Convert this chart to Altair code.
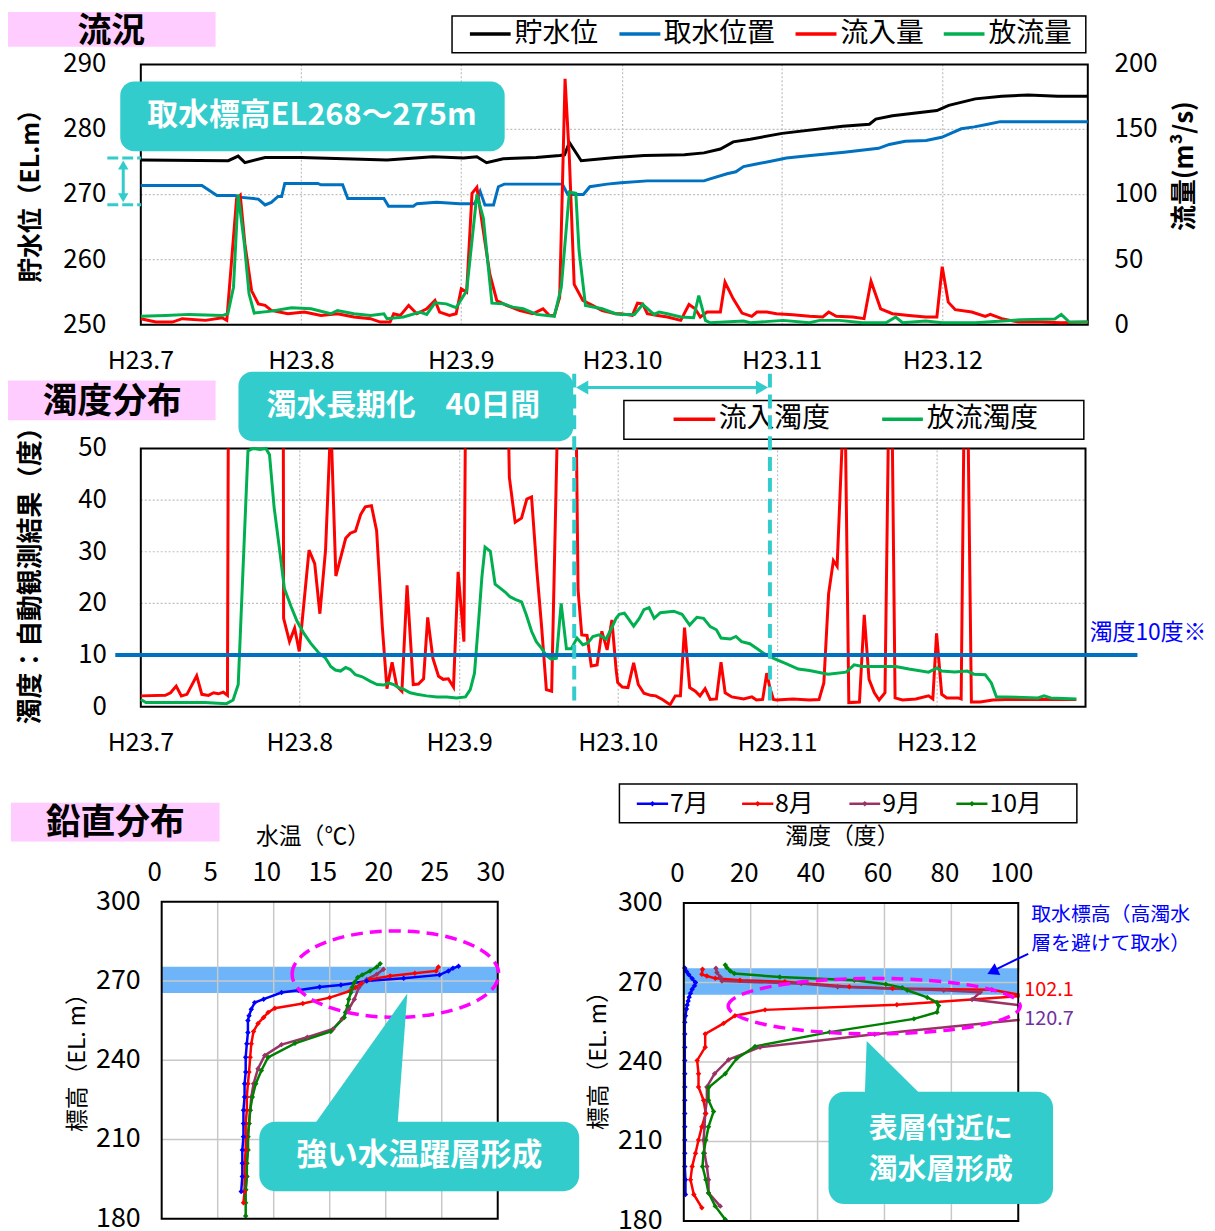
import altair as alt
import pandas as pd

# ---------------------------------------------------------------- layout
W, H = 1207, 1223
JP = "Noto Sans CJK JP"
NARROW = "Liberation Sans Narrow, Noto Sans CJK JP"
TEAL = "#33CCCC"
PINK = "#FFCCFF"
BLACK_C, BLUE_C, RED_C, GREEN_C = "#000000", "#0070C0", "#FF0000", "#00B050"
BAND_C = "#6EB4F8"

# ---------------------------------------------------------------- data
MONTH_TICKS = [0, 31, 62, 92, 123, 153]          # day index from 2011-07-01
MONTH_LABELS = ["H23.7", "H23.8", "H23.9", "H23.10", "H23.11", "H23.12"]
DAY_END = 182
EL_TICKS = [250, 260, 270, 280, 290]
Q_TICKS = [0, 50, 100, 150, 200]
TURB_TICKS = [0, 10, 20, 30, 40, 50]
TEMP_TICKS = [0, 5, 10, 15, 20, 25, 30]
TB_TICKS = [0, 20, 40, 60, 80, 100]
PROF_EL_TICKS = [180, 210, 240, 270, 300]

TOP_SERIES = ["貯水位", "取水位置", "流入量", "放流量"]
MID_SERIES = ["流入濁度", "放流濁度"]

# 貯水位 (EL.m)  (day, elevation)
LEVEL = [(0, 275.3), (16.9, 275.2), (18.8, 275.9), (20.1, 274.9), (24, 275.7), (31, 275.7),
         (47.6, 275.3), (56.5, 275.8), (62.4, 275.6), (64.9, 275.8), (66.7, 274.9), (69.8, 275.5),
         (75.9, 275.7), (80.3, 276.0), (81.2, 276.1), (82.1, 278.0), (84.3, 275.2), (88.2, 275.5),
         (90.7, 275.7), (96.2, 276.0), (104, 276.1), (107.8, 276.4), (111, 277.0), (113.5, 278.1),
         (116.8, 278.5), (123, 279.4), (134.3, 280.5), (139.3, 280.8), (140.5, 281.6), (143.6, 282.1),
         (151.9, 282.9), (154.2, 283.7), (159.5, 284.7), (164.8, 285.1), (170.1, 285.3), (176, 285.1),
         (182, 285.1)]

# 取水位置 (EL.m)
INTAKE = [(0, 271.4), (11.8, 271.4), (14.7, 269.85), (18.2, 269.85), (19.0, 269.6), (22.7, 269.3),
          (24.0, 268.4), (25.2, 268.8), (26.5, 269.7), (27.2, 269.7), (27.8, 271.7), (34.2, 271.7),
          (34.8, 271.5), (39.0, 271.5), (40.0, 269.4), (47.0, 269.4), (47.9, 268.2), (52.7, 268.2),
          (53.4, 268.6), (57.2, 268.8), (61.7, 268.6), (64.5, 268.6), (65.5, 270.5), (66.4, 268.4),
          (68.0, 268.4), (68.9, 271.2), (70.0, 271.6), (80.8, 271.6), (81.8, 270.0), (84.7, 270.0),
          (85.9, 271.2), (89.1, 271.6), (91.7, 271.8), (96.8, 272.1), (107.8, 272.1), (109.0, 272.4),
          (112.3, 273.2), (114.0, 273.5), (115.5, 274.3), (118.0, 274.7), (122.0, 275.3), (123.8, 275.6),
          (128.3, 276.0), (134.6, 276.5), (141.0, 277.1), (143.0, 277.7), (146.0, 278.2), (149.9, 278.3),
          (152.8, 278.8), (154.6, 279.4), (156.7, 280.1), (159.3, 280.4), (162.0, 280.8), (164.5, 281.2),
          (182, 281.2)]

# 流入量 (m3/s)
INFLOW = [(0, 4.6), (2.9, 2.0), (6.1, 2.0), (8, 4.6), (12.5, 3.3), (15.7, 5.3), (16.6, 3.3), (18.5, 97),
          (19.2, 99.5), (20.1, 62), (21.4, 26), (22.7, 16), (24, 14.8), (25.2, 11), (28.4, 8.4),
          (31.6, 9.7), (34.8, 7.1), (38, 8.4), (41.2, 5.9), (44.4, 4.6), (46.3, 2.0), (48.2, 2.0),
          (48.9, 8.4), (50.2, 7.1), (51.8, 14.8), (53.4, 8.4), (55.3, 12.2), (56.9, 18.6), (57.8, 9.7),
          (59.7, 7.1), (61, 8.4), (62, 27.5), (63, 25), (64, 101), (64.9, 105.6), (66.1, 72), (67.3, 39),
          (68.6, 18.6), (70.4, 14.8), (72.9, 10.9), (75.3, 8.4), (77.2, 12.2), (78.4, 7.1), (79.3, 7.1),
          (80.3, 21), (81.3, 189), (82.1, 128), (83, 31), (84.6, 18.6), (86.4, 14.8), (88.2, 10.9),
          (90.7, 8.4), (91.7, 8.4), (93.9, 7.1), (94.9, 16.5), (95.9, 16), (96.8, 8.4), (98.8, 7.1),
          (100.7, 5.9), (103.3, 3.3), (104.9, 15.5), (106.1, 12.2), (107.1, 5.9), (108.4, 9.7),
          (111, 9.7), (111.9, 32.6), (113.5, 19.8), (115.2, 8.9), (117.1, 6.4), (118.1, 9.7), (120, 9.7),
          (121.9, 8.4), (125, 7.6), (128.1, 6.4), (130.6, 5.9), (131.7, 9.7), (133.1, 6.4), (136.2, 5.9),
          (138.3, 4.6), (139.6, 33.3), (141.4, 12.2), (143.6, 8.4), (146.7, 7.1), (149.8, 5.9),
          (151.9, 5.9), (152.9, 44.5), (154.1, 17.3), (155.5, 11.5), (158.8, 9.7), (161.5, 6.4),
          (162.5, 7.9), (164.8, 4.6), (168.1, 2.0), (172.7, 2.0), (176.7, 1.5), (182, 2.0)]

# 放流量 (m3/s)
OUTFLOW = [(0, 6.4), (4.8, 7), (9.3, 7.9), (15.7, 7), (16.8, 8.4), (17.9, 28.8), (18.8, 100), (20, 62),
           (20.9, 23.7), (21.9, 8.9), (25.2, 10.4), (29.1, 13), (32.9, 12.2), (36.7, 8.4), (38, 10.9),
           (41.2, 8.4), (44.4, 7.1), (47, 8.4), (47.6, 4.6), (50.8, 5.9), (54, 9.7), (55.3, 7.9),
           (56.9, 16.8), (59.1, 16), (61, 13), (63, 26), (64.9, 100), (66.1, 82), (67.7, 16.5),
           (69.8, 16), (71.6, 13.5), (73.5, 12.2), (76, 7.9), (79.3, 6.4), (80.6, 28.8), (82.1, 102),
           (83.3, 101), (83.9, 57), (85.1, 14.8), (88.2, 12.2), (90.7, 8.4), (91.7, 7.9), (94.3, 7.9),
           (95.9, 15.5), (98.1, 7.9), (99.1, 9.7), (100.7, 8.4), (103.3, 5.9), (105.8, 5.3), (106.8, 22.4),
           (108.1, 3.3), (109, 1.5), (115.5, 2.8), (116.8, 1.5), (123.2, 3.3), (128.1, 1.5), (130, 3.3),
           (133.7, 3.3), (138, 1.5), (142.4, 1.5), (144.2, 5.9), (145.5, 1.5), (149.8, 2.8), (152.9, 1.5),
           (159.5, 1.5), (168.8, 3.8), (175.4, 4.3), (176.7, 7.9), (178.3, 2.0), (182, 2.0)]

# 流入濁度 (度) ; None = off-scale (above 50) gap
TURB_IN = [(0, 2.1), (4.8, 2.2), (5.8, 2.7), (6.9, 4.0), (7.9, 2.1), (9, 2.4), (10.9, 6.0), (11.9, 2.4),
           (13.2, 2.2), (14.2, 2.7), (15.1, 2.5), (16.1, 2.8), (16.9, 2.2), (17.05, 50), None,
           (27.8, 50), (27.85, 17.1), (29, 12.6), (30, 15.2), (30.9, 10.7), (32.8, 30.3), (33.9, 27.7),
           (34.9, 18.0), (36, 30.3), (36.8, 50), None,
           (37.2, 50), (38, 25.3), (39.9, 32.6), (40.8, 33.6), (41.8, 34.0), (42.8, 37.2), (43.7, 38.7),
           (44.9, 38.9), (45.9, 34.1), (47, 15.5), (47.9, 3.5), (48.9, 8.6), (49.8, 4.0), (50.8, 3.0),
           (51.8, 23.5), (53, 4.3), (54, 4.4), (55, 5.4), (55.8, 17.3), (56.8, 9.4), (57.9, 5.9),
           (58.8, 5.3), (59.8, 5.4), (60.8, 3.8), (61.7, 26.1), (62.8, 12.6), (63.05, 50), None,
           (71.3, 50), (71.4, 44.4), (72.5, 35.7), (73.7, 36.5), (74.7, 40.2), (75.6, 40.6), (76.6, 26.4),
           (77.5, 15.5), (78.4, 3.3), (79.4, 3.0), (80.4, 50), None,
           (84.1, 50), (84.4, 22.6), (85.1, 13.9), (86.1, 13.8), (86.9, 7.9), (88, 8.1), (88.9, 14.6),
           (89.9, 11.0), (90.8, 16.8), (91.6, 7.2), (91.9, 4.7), (92.8, 3.8), (93.9, 3.7), (95, 8.5),
           (95.9, 4.3), (97, 2.6), (98.3, 2.2), (99.3, 2.1), (100.6, 1.4), (102.1, 0.4), (103.1, 2.1),
           (104.1, 2.1), (104.9, 15.3), (105.9, 3.7), (107, 3.0), (107.9, 2.1), (108.9, 3.5), (109.9, 1.4),
           (111.1, 1.5), (112, 8.6), (112.8, 2.7), (114.1, 1.9), (116.4, 1.5), (118, 1.9), (118.9, 1.3),
           (120.1, 1.4), (120.9, 6.5), (121.5, 3.7), (122.2, 1.4), (122.8, 1.3), (125.9, 1.5), (129, 1.3),
           (130.8, 1.4), (131.7, 4.6), (132.6, 21.9), (133.5, 28.3), (134.2, 27.2), (135.1, 50), None,
           (135.8, 50), (136.4, 0.8), (138.4, 0.9), (139.3, 17.8), (140.2, 5.3), (141.2, 2.7), (142.1, 1.3),
           (143.2, 2.7), (143.8, 50), None,
           (144.6, 50), (145.1, 1.7), (146.5, 1.3), (149, 1.5), (151.4, 2.1), (152.2, 1.5), (152.9, 14.2),
           (153.9, 2.4), (154.9, 1.7), (157.1, 1.7), (157.7, 1.5), (158.2, 50), None,
           (159.1, 50), (159.7, 0.9), (161.4, 0.9), (163.9, 1.3), (166.4, 1.4), (172.7, 1.4), (180.2, 1.4)]

# 放流濁度 (度)
TURB_OUT = [(0, 1.4), (1, 0.8), (6.1, 0.8), (12.5, 0.8), (16.7, 0.6), (18, 1.3), (19, 4.3), (19.9, 25.8),
            (20.9, 49.5), (21.9, 50), (23.2, 49.8), (24.4, 50), (25.1, 48.8), (26, 38.6), (27, 30.9),
            (28, 22.9), (29.3, 19.4), (30.5, 16.5), (31.8, 14.2), (33.1, 12.3), (34.7, 10.4), (36, 9.4),
            (37, 7.8), (37.9, 7.1), (38.9, 6.9), (39.9, 7.6), (40.8, 7.2), (41.8, 6.2), (43.1, 5.8),
            (44.7, 4.9), (46, 4.3), (47.3, 4.2), (48.2, 4.6), (49.2, 4.3), (50.2, 3.7), (51.1, 3.4),
            (52.4, 2.7), (53.7, 2.4), (55.6, 2.1), (57.6, 1.9), (59.5, 1.9), (61.4, 1.7), (63.1, 1.9),
            (64, 3.3), (64.8, 6.5), (65.6, 16.8), (66.2, 25.1), (66.8, 30.9), (67.8, 30.1), (68.7, 23.7),
            (69.6, 23.0), (70.6, 22.2), (71.5, 21.3), (72.5, 20.8), (73.7, 20.3), (74.6, 17.8),
            (75.6, 14.6), (76.5, 12.6), (77.5, 11.3), (78.4, 9.9), (79.3, 9.2), (80.3, 9.4), (81.2, 20.0),
            (82.2, 11.2), (83.1, 11.2), (84.2, 13.3), (85.3, 12.0), (86.2, 12.3), (87.2, 13.6),
            (88.4, 13.9), (89.7, 13.1), (90.6, 14.9), (91.6, 17.1), (92.2, 17.9), (93.2, 18.1), (95, 15.6),
            (96.1, 17.1), (97, 18.8), (98, 19.2), (99, 17.1), (100.2, 18.2), (102.8, 18.5), (104.4, 17.9),
            (105.9, 15.8), (107.3, 17.3), (108.6, 17.1), (109.9, 15.5), (111.1, 14.9), (112, 13.3),
            (113.8, 13.1), (114.9, 13.6), (116, 12.6), (117.6, 12.2), (118.9, 11.3), (120.2, 10.4),
            (121.5, 9.7), (122.8, 9.1), (124.7, 8.3), (126.9, 7.3), (129, 7.0), (132.5, 6.3), (135.9, 6.7),
            (137.4, 8.1), (139, 7.8), (141.5, 7.8), (145.2, 7.8), (147.7, 7.3), (151.4, 6.7), (153, 7.5),
            (153.9, 6.9), (156.4, 6.7), (158.9, 6.9), (160.2, 6.3), (162.4, 6.2), (163.6, 4.6),
            (164.6, 1.9), (166.4, 1.9), (172.7, 1.7), (173.9, 2.1), (175.2, 1.7), (180.2, 1.5)]
TURB_LIMIT = 10

# 鉛直分布
PROFILE_MONTHS = ["7月", "8月", "9月", "10月"]
PROFILE_COLORS = ["#0000FF", "#FF0000", "#993366", "#008000"]
# 水温 (°C), 標高 (EL.m)
TEMP_PROFILES = {
    "7月": [(26.5, 275.6), (26.0, 274.8), (25.6, 273.8), (24.8, 272.3), (21.6, 271.0), (18.3, 270.0),
            (16.0, 268.5), (14.1, 267.7), (12.2, 266.5), (10.7, 265.6), (9.1, 263.1), (8.3, 261.8),
            (8.0, 259.3), (7.8, 256.8), (7.7, 255.0), (7.7, 250.5), (7.6, 246.2), (7.5, 241.1),
            (7.5, 235.5), (7.4, 231.1), (7.4, 226.1), (7.3, 221.1), (7.3, 216.0), (7.3, 211.0),
            (7.2, 206.0), (7.2, 201.0), (7.2, 196.0), (7.1, 190.3)],
    "8月": [(24.7, 275.3), (24.5, 273.8), (22.6, 272.9), (20.4, 271.9), (18.6, 270.6), (17.8, 269.0),
            (17.3, 267.5), (16.8, 266.2), (15.0, 263.7), (12.6, 261.5), (10.1, 259.7), (9.5, 258.1),
            (9.1, 256.2), (8.6, 253.9), (8.2, 250.9), (8.0, 246.2), (7.9, 241.1), (7.8, 235.5),
            (7.7, 231.1), (7.6, 226.1), (7.6, 221.1), (7.5, 216.0), (7.5, 211.0), (7.5, 206.0),
            (7.4, 201.0), (7.4, 196.0), (7.4, 190.3), (7.3, 186.0)],
    "9月": [(19.8, 274.4), (19.2, 272.5), (18.3, 270.6), (17.6, 267.5), (17.2, 263.1), (16.7, 259.3),
            (16.1, 255.6), (15.3, 251.8), (13.0, 248.7), (10.7, 245.9), (9.2, 241.8), (8.6, 236.8),
            (8.2, 231.1), (8.0, 226.1), (7.9, 221.1), (7.8, 216.0), (7.7, 211.0), (7.7, 206.0),
            (7.6, 201.0), (7.6, 196.0), (7.5, 191.0)],
    "10月": [(19.5, 276.5), (19.2, 275.3), (18.6, 273.8), (17.9, 272.3), (17.5, 271.3), (17.2, 269.4),
             (17.0, 267.5), (16.9, 265.6), (16.7, 263.1), (16.6, 260.6), (16.4, 258.1), (16.3, 256.2),
             (15.1, 250.9), (11.9, 246.4), (9.5, 241.1), (8.9, 236.1), (8.4, 231.1), (8.1, 226.1),
             (7.9, 221.1), (7.8, 216.0), (7.7, 211.0), (7.7, 206.0), (7.6, 201.0), (7.6, 196.0),
             (7.5, 191.0), (7.5, 186.0), (7.5, 181.0)],
}
# 濁度 (度), 標高 (EL.m)
TURB_PROFILES = {
    "7月": [(0.3, 275.5), (0.8, 274.2), (1.5, 273.0), (2.5, 271.5), (3.5, 270.0), (3.2, 268.8),
            (2.5, 267.5), (2.0, 266.0), (1.6, 264.5), (1.3, 263.0), (1.0, 261.5), (0.8, 260.0),
            (0.5, 257.5), (0.3, 255.0), (0.3, 250.6), (0.3, 245.6), (0.3, 240.6), (0.3, 235.6),
            (0.3, 230.6), (0.3, 225.6), (0.3, 220.6), (0.3, 215.6), (0.3, 210.6), (0.3, 205.6),
            (0.3, 200.6), (0.5, 195.6), (0.5, 190.0)],
    "8月": [(5.6, 275.0), (5.4, 273.1), (6.9, 272.5), (9.4, 271.6), (16.8, 270.9), (30.2, 270.3),
            (49.5, 268.4), (62.4, 267.8), (92.1, 267.3), (102.1, 265.0), (63.7, 261.6), (24.3, 259.7),
            (15.3, 257.5), (11.9, 254.6), (6.4, 250.6), (6.4, 245.6), (4.0, 240.6), (4.4, 235.6),
            (4.4, 230.6), (5.9, 225.6), (6.6, 220.6), (5.4, 215.6), (4.4, 210.6), (3.5, 205.6),
            (2.5, 200.6), (2.0, 195.6), (3.0, 190.0), (5.4, 185.0)],
    "9月": [(9.6, 275.4), (9.9, 273.8), (10.9, 272.1), (11.4, 270.6), (35.1, 269.6), (46.0, 268.4),
            (77.7, 267.1), (88.6, 266.3), (86.2, 263.6), (120.7, 258.5), (57.1, 250.5), (22.8, 245.6),
            (13.4, 240.9), (9.2, 235.6), (6.9, 230.6), (6.9, 225.6), (6.4, 220.6), (6.2, 215.6),
            (5.9, 210.6), (6.2, 205.6), (6.9, 200.6), (7.4, 195.6), (7.4, 190.6), (10.9, 185.6)],
    "10月": [(12.4, 276.6), (12.9, 275.6), (13.9, 274.4), (15.1, 273.4), (28.7, 272.1), (51.0, 270.9),
             (60.4, 269.4), (65.3, 268.1), (66.8, 267.1), (72.8, 264.4), (75.7, 262.5), (76.2, 261.3),
             (75.7, 258.8), (68.8, 256.3), (43.6, 251.3), (21.3, 245.9), (15.8, 241.3), (12.4, 235.6),
             (7.4, 230.4), (7.4, 225.6), (8.9, 221.3), (7.4, 215.6), (6.6, 210.6), (5.9, 205.6),
             (5.6, 200.6), (6.6, 195.6), (7.4, 190.6), (9.4, 185.6), (12.4, 180.6)],
}
INTAKE_BAND = (265.4, 275.4)
PEAK_LABELS = [("102.1", "#FF0000"), ("120.7", "#7030A0")]


# ---------------------------------------------------------------- helpers
def P(v):
    """page pixel -> chart pixel (page has an 8px margin)"""
    return v - 8


def series(pairs, xname, yname):
    rows, seg = [], 0
    for p in pairs:
        if p is None:
            seg += 1
            continue
        rows.append({xname: p[0], yname: p[1], "seg": seg})
    return pd.DataFrame(rows)


def profile_df(profiles, col):
    rows = []
    for m in PROFILE_MONTHS:
        for i, (v, e) in enumerate(profiles[m]):
            rows.append({"month": m, col: v, "el": e, "i": i})
    return pd.DataFrame(rows)


def xticks(vals, labels, xs, ypage, size=26, font=JP, dx=0):
    df = pd.DataFrame({"v": vals, "lab": labels})
    return alt.Chart(df).mark_text(fontSize=size, font=font, color="black", align="center",
                                   baseline="middle", dx=dx).encode(
        x=alt.X("v:Q", scale=xs, axis=None), y=alt.value(P(ypage)), text="lab:N")


def yticks(vals, ys, xpage, align, size=26, font=JP):
    df = pd.DataFrame({"v": vals, "lab": [str(v) for v in vals]})
    return alt.Chart(df).mark_text(fontSize=size, font=font, color="black", align=align,
                                   baseline="middle").encode(
        y=alt.Y("v:Q", scale=ys, axis=None), x=alt.value(P(xpage)), text="lab:N")


def hgrid(vals, x0, x1, xs, ys, style):
    df = pd.DataFrame({"v": vals, "a": x0, "b": x1})
    return alt.Chart(df).mark_rule(**style).encode(
        x=alt.X("a:Q", scale=xs, axis=None), x2="b:Q",
        y=alt.Y("v:Q", scale=ys, axis=None))


def vgrid(vals, y0, y1, xs, ys, style):
    df = pd.DataFrame({"v": vals, "a": y0, "b": y1})
    return alt.Chart(df).mark_rule(**style).encode(
        x=alt.X("v:Q", scale=xs, axis=None),
        y=alt.Y("a:Q", scale=ys, axis=None), y2="b:Q")


def frame(x0, x1, y0, y1, xs, ys, **kw):
    df = pd.DataFrame({"a": [x0], "b": [x1], "c": [y0], "d": [y1]})
    return alt.Chart(df).mark_rect(**kw).encode(
        x=alt.X("a:Q", scale=xs, axis=None), x2="b:Q",
        y=alt.Y("c:Q", scale=ys, axis=None), y2="d:Q")


ONE = pd.DataFrame({"k": [0]})


def box(x1, y1, x2, y2, **kw):
    return alt.Chart(ONE).mark_rect(**kw).encode(
        x=alt.value(P(x1)), x2=alt.value(P(x2)), y=alt.value(P(y1)), y2=alt.value(P(y2)))


def label(x, y, s, **kw):
    kw.setdefault("font", JP)
    kw.setdefault("align", "center")
    kw.setdefault("baseline", "middle")
    kw.setdefault("color", "black")
    return alt.Chart(ONE).mark_text(text=s, **kw).encode(x=alt.value(P(x)), y=alt.value(P(y)))


def seg(x1, y1, x2, y2, **kw):
    return alt.Chart(ONE).mark_rule(**kw).encode(
        x=alt.value(P(x1)), x2=alt.value(P(x2)), y=alt.value(P(y1)), y2=alt.value(P(y2)))


def symbol(x, y, shape, size, **kw):
    kw.setdefault("opacity", 1)
    return alt.Chart(ONE).mark_point(shape=shape, size=size, **kw).encode(
        x=alt.value(P(x)), y=alt.value(P(y)))


GRID_DOT = dict(color="#BFBFBF", strokeDash=[2, 2], strokeWidth=1.2)
GRID_SOLID = dict(color="#C8C8C8", strokeWidth=1.5)

# ---------------------------------------------------------------- top panel (流況)
X_TOP = alt.Scale(domain=MONTH_TICKS + [DAY_END],
                  range=[P(v) for v in [141.7, 303.3, 464.3, 626.7, 787.3, 949, 1095]],
                  nice=False, zero=False)
Y_EL = alt.Scale(domain=[250, 290], range=[P(322.7), P(60.7)], nice=False, zero=False)
Y_Q = alt.Scale(domain=[0, 200], range=[P(322.7), P(60.7)], nice=False, zero=False)

level_line = alt.Chart(series(LEVEL, "day", "el")).mark_line(color=BLACK_C, strokeWidth=3).encode(
    x=alt.X("day:Q", scale=X_TOP, axis=None), y=alt.Y("el:Q", scale=Y_EL, axis=None))
intake_line = alt.Chart(series(INTAKE, "day", "el")).mark_line(color=BLUE_C, strokeWidth=3).encode(
    x=alt.X("day:Q", scale=X_TOP, axis=None), y=alt.Y("el:Q", scale=Y_EL, axis=None))
top_el = alt.layer(
    hgrid([260, 270, 280], 0, DAY_END, X_TOP, Y_EL, GRID_DOT),
    vgrid(MONTH_TICKS[1:], 250, 290, X_TOP, Y_EL, GRID_DOT),
    frame(0, DAY_END, 250, 290, X_TOP, Y_EL, filled=False, color="black", strokeWidth=2),
    level_line, intake_line,
    xticks(MONTH_TICKS, MONTH_LABELS, X_TOP, 359, size=25),
    yticks(EL_TICKS, Y_EL, 107, "right"))

inflow_line = alt.Chart(series(INFLOW, "day", "q")).mark_line(color=RED_C, strokeWidth=3).encode(
    x=alt.X("day:Q", scale=X_TOP, axis=None), y=alt.Y("q:Q", scale=Y_Q, axis=None))
outflow_line = alt.Chart(series(OUTFLOW, "day", "q")).mark_line(color=GREEN_C, strokeWidth=3).encode(
    x=alt.X("day:Q", scale=X_TOP, axis=None), y=alt.Y("q:Q", scale=Y_Q, axis=None))
top_q = alt.layer(inflow_line, outflow_line, yticks(Q_TICKS, Y_Q, 1122, "left"))
top = alt.layer(top_el, top_q).resolve_scale(y="independent")

# ---------------------------------------------------------------- middle panel (濁度分布)
X_MID = alt.Scale(domain=MONTH_TICKS + [DAY_END],
                  range=[P(v) for v in [141.7, 301.7, 462.7, 622.3, 782.7, 943.3, 1092.7]],
                  nice=False, zero=False)
Y_MID = alt.Scale(domain=[0, 50], range=[P(707.3), P(447.3)], nice=False, zero=False)

tin_line = alt.Chart(series(TURB_IN, "day", "v")).mark_line(color=RED_C, strokeWidth=3).encode(
    x=alt.X("day:Q", scale=X_MID, axis=None), y=alt.Y("v:Q", scale=Y_MID, axis=None),
    detail="seg:N")
tout_line = alt.Chart(series(TURB_OUT, "day", "v")).mark_line(color=GREEN_C, strokeWidth=3).encode(
    x=alt.X("day:Q", scale=X_MID, axis=None), y=alt.Y("v:Q", scale=Y_MID, axis=None))
limit_line = alt.Chart(pd.DataFrame({"v": [TURB_LIMIT]})).mark_rule(color=BLUE_C, strokeWidth=4).encode(
    x=alt.value(P(116)), x2=alt.value(P(1145)), y=alt.Y("v:Q", scale=Y_MID, axis=None))
mid = alt.layer(
    hgrid([10, 20, 30, 40], 0, DAY_END, X_MID, Y_MID, GRID_DOT),
    vgrid(MONTH_TICKS[1:], 0, 50, X_MID, Y_MID, GRID_DOT),
    frame(0, DAY_END, 0, 50, X_MID, Y_MID, filled=False, color="black", strokeWidth=2),
    tin_line, tout_line, limit_line,
    xticks(MONTH_TICKS, MONTH_LABELS, X_MID, 744, size=25),
    yticks(TURB_TICKS, Y_MID, 107.5, "right"))

# ---------------------------------------------------------------- bottom panels (鉛直分布)
COLOR = alt.Scale(domain=PROFILE_MONTHS, range=PROFILE_COLORS)
PT = alt.OverlayMarkDef(shape="diamond", filled=True, size=30, opacity=1)

X_BL = alt.Scale(domain=[0, 30], range=[P(162.7), P(501)], nice=False, zero=False)
Y_BL = alt.Scale(domain=[180, 300], range=[P(1222.7), P(903.6)], nice=False, zero=False)
bl_lines = alt.Chart(profile_df(TEMP_PROFILES, "t")).mark_line(strokeWidth=2.5, point=PT).encode(
    x=alt.X("t:Q", scale=X_BL, axis=None), y=alt.Y("el:Q", scale=Y_BL, axis=None),
    color=alt.Color("month:N", scale=COLOR, legend=None),
    order=alt.Order("i:Q"))
bl = alt.layer(
    frame(0, 30, INTAKE_BAND[0], INTAKE_BAND[1], X_BL, Y_BL, color=BAND_C),
    hgrid([210, 240, 270], 0, 30, X_BL, Y_BL, GRID_SOLID),
    vgrid([5, 10, 15, 20, 25], 180, 300, X_BL, Y_BL, GRID_SOLID),
    bl_lines,
    frame(0, 30, 180, 300, X_BL, Y_BL, filled=False, color="black", strokeWidth=2),
    xticks(TEMP_TICKS, [str(v) for v in TEMP_TICKS], X_BL, 875, size=26, font=NARROW, dx=-7),
    yticks(PROF_EL_TICKS, Y_BL, 141.6, "right", size=27, font=NARROW))

X_BR = alt.Scale(domain=[0, 100], range=[P(688.3), P(1025)], nice=False, zero=False)
Y_BR = alt.Scale(domain=[180, 300], range=[P(1225), P(905)], nice=False, zero=False)
br_lines = alt.Chart(profile_df(TURB_PROFILES, "tb")).mark_line(strokeWidth=2.5, point=PT).encode(
    x=alt.X("tb:Q", scale=X_BR, axis=None), y=alt.Y("el:Q", scale=Y_BR, axis=None),
    color=alt.Color("month:N", scale=COLOR, legend=None),
    order=alt.Order("i:Q"))
br = alt.layer(
    frame(0, 100, INTAKE_BAND[0], INTAKE_BAND[1], X_BR, Y_BR, color=BAND_C),
    hgrid([210, 240, 270], 0, 100, X_BR, Y_BR, GRID_SOLID),
    vgrid([20, 40, 60, 80], 180, 300, X_BR, Y_BR, GRID_SOLID),
    br_lines,
    frame(0, 100, 180, 300, X_BR, Y_BR, filled=False, color="black", strokeWidth=2),
    xticks(TB_TICKS, [str(v) for v in TB_TICKS], X_BR, 876, size=26, font=NARROW, dx=-6.5),
    yticks(PROF_EL_TICKS, Y_BR, 667, "right", size=27, font=NARROW))

# ---------------------------------------------------------------- decorations
ELLIPSE_BL = "M -1 0 A 1 0.418 0 1 1 1 0 A 1 0.418 0 1 1 -1 0 Z"
ELLIPSE_BR = "M -1 0 A 1 0.19 0 1 1 1 0 A 1 0.19 0 1 1 -1 0 Z"
TAIL_BL = "M -0.709 1 L 0.560 1 L 0.709 -1 Z"
TAIL_BR = "M -1 0.952 L 1 0.952 L -0.935 -0.952 Z"

deco = [
    # panel titles
    box(8, 8, 217, 43, color=PINK), label(112, 28, "流況", fontSize=34, fontWeight="bold"),
    box(8, 379, 217, 419, color=PINK), label(113, 401, "濁度分布", fontSize=35, fontWeight="bold"),
    box(11, 804, 221, 843, color=PINK), label(116, 824, "鉛直分布", fontSize=35, fontWeight="bold"),
    # axis titles
    label(31, 187, "貯水位（EL.m）", angle=270, fontSize=25, fontWeight="bold"),
    label(1193, 163, "流量(m³/s)", angle=270, fontSize=26, fontWeight="bold"),
    label(31, 569, "濁度：自動観測結果（度）", angle=270, fontSize=26, fontWeight="bold"),
    label(315, 838, "水温（℃）", fontSize=23),
    label(848, 839, "濁度（度）", fontSize=23),
    label(79, 1060, "標高（EL. m）", angle=270, fontSize=23),
    label(603, 1058, "標高（EL. m）", angle=270, fontSize=23),
    # top legend
    box(455, 12, 1093, 49, fill="white", stroke="black", strokeWidth=1.5),
]
for (x1, x2, tx), name, c in zip([(473, 514, 518), (623.5, 664.7, 668), (800.8, 842, 846), (950, 991, 995)],
                                 TOP_SERIES, [BLACK_C, BLUE_C, RED_C, GREEN_C]):
    deco += [seg(x1, 30, x2, 30, color=c, strokeWidth=3.5), label(tx, 30, name, fontSize=28, align="left")]
# middle legend
deco.append(box(628, 399, 1091, 438, fill="white", stroke="black", strokeWidth=1.5))
for (x1, x2, tx), name, c in zip([(678, 720, 723.5), (888, 929, 933)], MID_SERIES, [RED_C, GREEN_C]):
    deco += [seg(x1, 418, x2, 418, color=c, strokeWidth=3.5), label(tx, 418, name, fontSize=28, align="left")]
# bottom legend
deco.append(box(623.5, 785, 1084, 824, fill="white", stroke="black", strokeWidth=1.5))
for (x1, x2, tx), name, c in zip([(641, 672.5, 674.5), (747, 778.4, 780), (855, 886, 888), (962.7, 994, 996)],
                                 PROFILE_MONTHS, PROFILE_COLORS):
    deco += [seg(x1, 805, x2, 805, color=c, strokeWidth=2.5),
             symbol((x1 + x2) / 2, 805, "diamond", 30, filled=True, color=c),
             label(tx, 805, name, fontSize=25, align="left", font=NARROW)]

deco += [
    # top annotation
    box(121, 78, 508, 148, color=TEAL, cornerRadius=14),
    label(314, 113, "取水標高EL268～275m", fontSize=31, fontWeight="bold", color="white"),
    seg(108, 155, 142, 155, color=TEAL, strokeWidth=3, strokeDash=[11, 4]),
    seg(108, 202, 142, 202, color=TEAL, strokeWidth=3, strokeDash=[11, 4]),
    seg(124, 162, 124, 196, color=TEAL, strokeWidth=3),
    symbol(124, 162, "triangle-up", 110, filled=True, color=TEAL),
    symbol(124, 195, "triangle-down", 110, filled=True, color=TEAL),
    # middle annotation
    box(240, 370, 577, 440, color=TEAL, cornerRadius=14),
    label(406, 405, "濁水長期化　40日間", fontSize=30, fontWeight="bold", color="white"),
    seg(578, 372, 578, 707, color=TEAL, strokeWidth=4, strokeDash=[14, 7]),
    seg(775, 372, 775, 707, color=TEAL, strokeWidth=4, strokeDash=[14, 7]),
    seg(586, 386, 767, 386, color=TEAL, strokeWidth=3),
    symbol(586, 386, "triangle-left", 200, filled=True, color=TEAL),
    symbol(767, 386, "triangle-right", 200, filled=True, color=TEAL),
    label(1097, 633, "濁度10度※", fontSize=23, color="#0000FF", align="left"),
    # bottom right: hide line parts beyond the plot, labels, arrow
    box(1026.5, 975, 1110, 1035, color="white"),
    label(1031, 993, PEAK_LABELS[0][0], fontSize=20, color=PEAK_LABELS[0][1], align="left", font=NARROW),
    label(1031, 1022, PEAK_LABELS[1][0], fontSize=20, color=PEAK_LABELS[1][1], align="left", font=NARROW),
    label(1038, 917, "取水標高（高濁水", fontSize=20, color="#0000FF", align="left"),
    label(1038, 946, "層を避けて取水）", fontSize=20, color="#0000FF", align="left"),
    seg(1035, 956, 1000, 973, color="#0000FF", strokeWidth=2),
    symbol(999, 974, "triangle-up", 170, angle=244, filled=True, color="#0000FF"),
    # ellipses
    symbol(398, 976.5, ELLIPSE_BL, 208 ** 2, filled=False, color="#FF00FF", strokeWidth=3.5,
           strokeDash=[12, 7]),
    symbol(880, 1008.7, ELLIPSE_BR, 294 ** 2, filled=False, color="#FF00FF", strokeWidth=3.5,
           strokeDash=[12, 7]),
    # callouts
    symbol(362.5, 1063, TAIL_BL, 134 ** 2, filled=True, color=TEAL, strokeWidth=0),
    box(261, 1125, 583, 1195, color=TEAL, cornerRadius=16),
    label(422, 1160, "強い水温躍層形成", fontSize=31, fontWeight="bold", color="white"),
    symbol(900, 1072, TAIL_BR, 59 ** 2, filled=True, color=TEAL, strokeWidth=0),
    box(834, 1095, 1060, 1208, color=TEAL, cornerRadius=16),
    label(947, 1132, "表層付近に", fontSize=29, fontWeight="bold", color="white"),
    label(947, 1174, "濁水層形成", fontSize=29, fontWeight="bold", color="white"),
]

chart = (
    alt.layer(top, mid, bl, br, *deco)
    .resolve_scale(x="independent", y="independent")
    .properties(width=W, height=H, autosize=alt.AutoSizeParams(type="none"), padding=0)
    .configure(font=JP)
    .configure_view(strokeWidth=0)
)

chart.save("out.html", embed_options={"renderer": "svg", "actions": False})
